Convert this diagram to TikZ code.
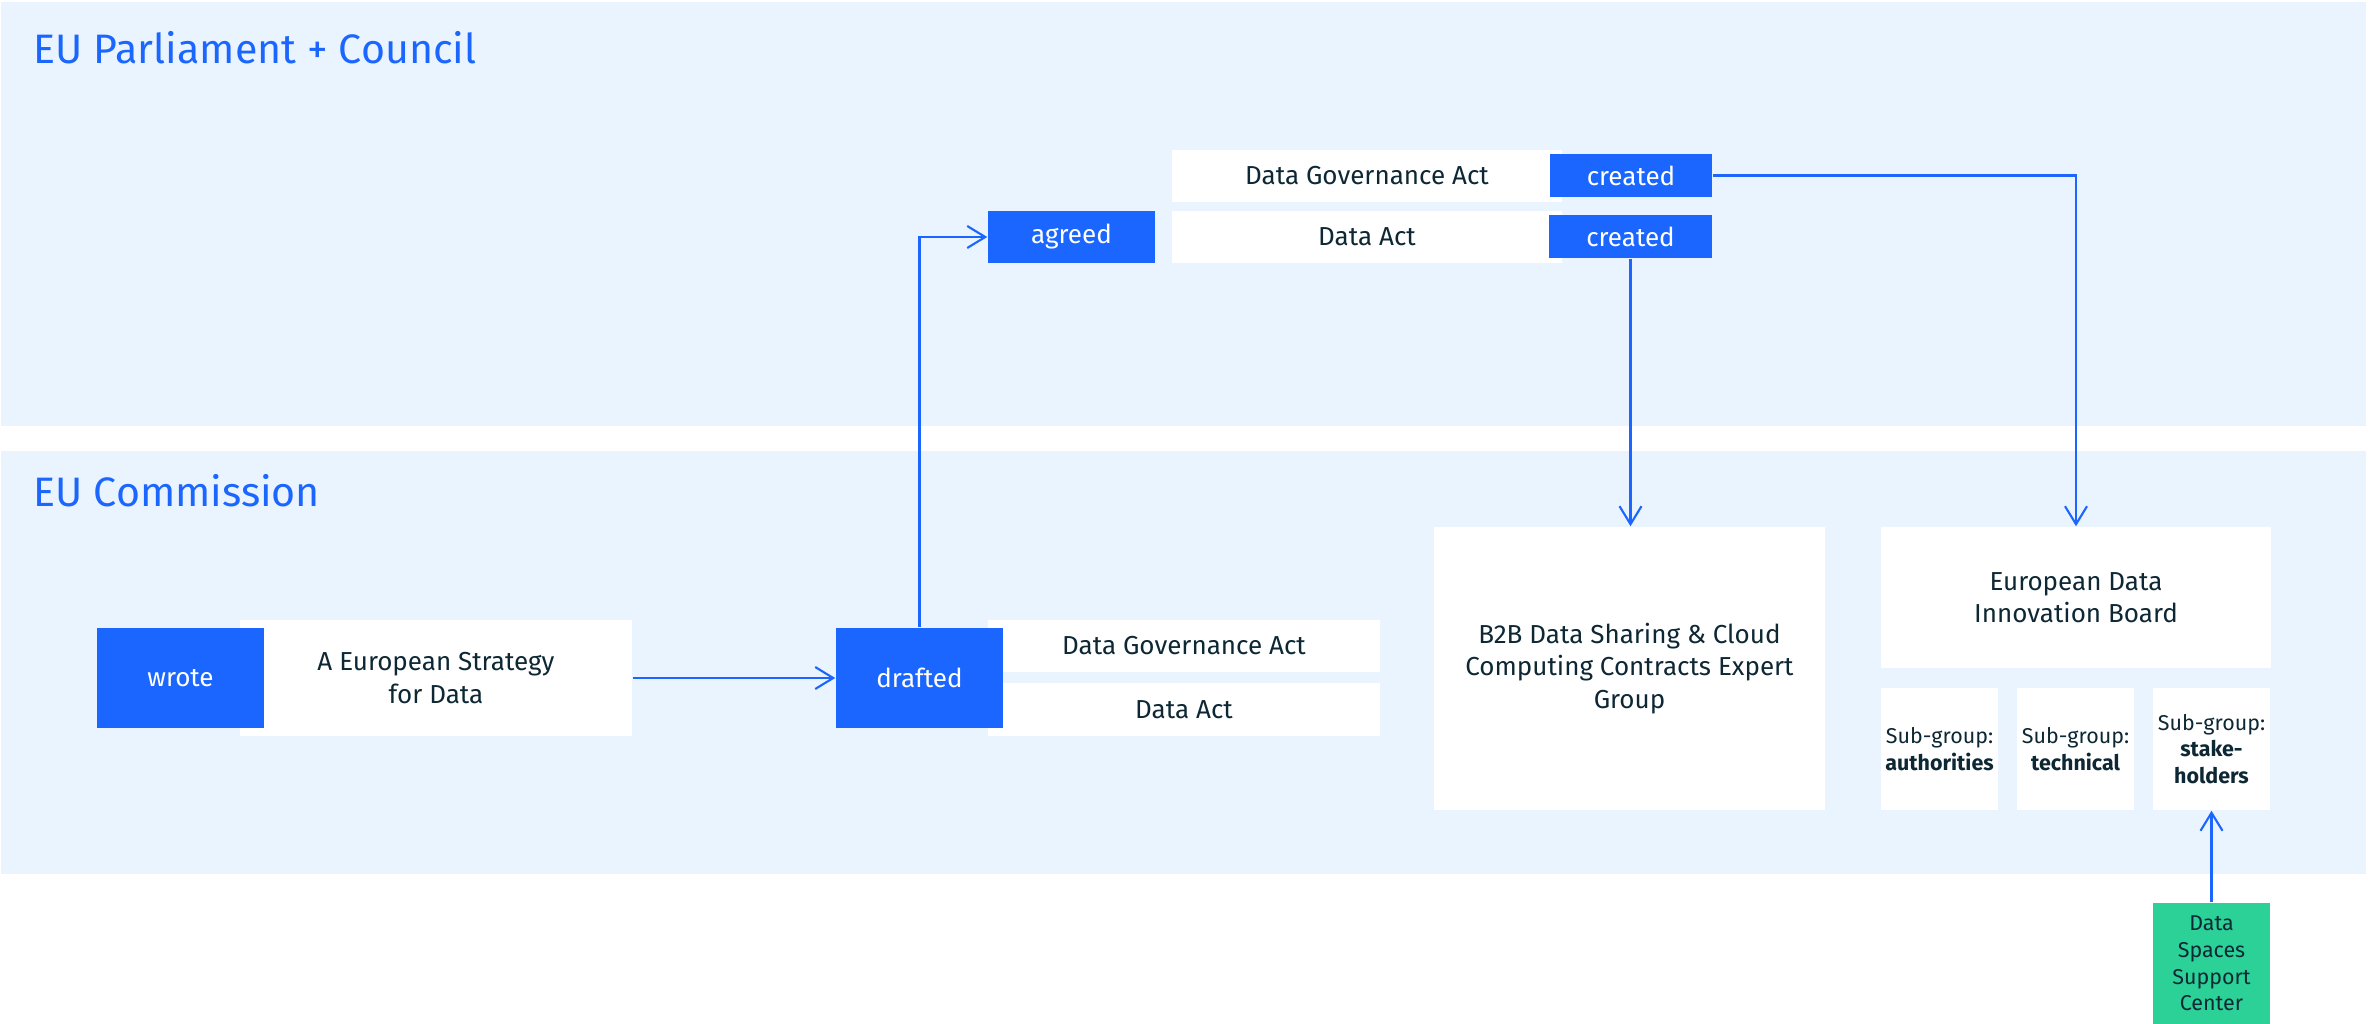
\documentclass[tikz,border=0pt]{standalone}
\usepackage{fontspec}
\setmainfont{Fira Sans}
\usetikzlibrary{arrows.meta}
\definecolor{panelblue}{RGB}{234,244,255}
\definecolor{boxblue}{RGB}{26,102,255}
\definecolor{boxgreen}{RGB}{43,209,151}
\definecolor{inktext}{RGB}{13,40,52}
\def\bodyfont{\fontsize{7.4}{9.2}\selectfont}
\def\smallfont{\fontsize{6.1}{7.6}\selectfont}
\tikzset{
  whitebox/.style={fill=white, inner sep=0pt, align=center, text=inktext, font=\bodyfont},
  bluebox/.style={fill=boxblue, inner sep=0pt, align=center, text=white, font=\bodyfont},
  subbox/.style={fill=white, inner sep=0pt, align=center, text=inktext, font=\smallfont,
    minimum width=1.17cm, minimum height=1.22cm},
  paneltitle/.style={anchor=base west, inner sep=0pt, text=boxblue, font=\fontsize{11.7}{14}\selectfont},
  link/.style={draw=boxblue, line width=0.6pt, -{Straight Barb[length=0.18cm,width=0.22cm]}}
}

\begin{document}
\begin{tikzpicture}[x=0.01cm, y=-0.01cm]
			%%%%% START %%%%%
			\useasboundingbox (0,0) rectangle (2369,1024);
			
			\fill[panelblue] (1,2) rectangle (2366,426);
			\fill[panelblue] (1,451) rectangle (2366,874);
			\node[paneltitle] (parltitle) at (33,64) {EU Parliament + Council};
			\node[paneltitle] (commtitle) at (33,506) {EU Commission};
			
			% parliament + council
			\node[bluebox, minimum width=1.67cm, minimum height=0.52cm] (agreed) at (1071.5,237) {agreed};
			\node[whitebox, minimum width=3.90cm, minimum height=0.52cm] (dgatop) at (1367,176) {Data Governance Act};
			\node[whitebox, minimum width=3.90cm, minimum height=0.52cm] (datop) at (1367,237) {Data Act};
			\node[bluebox, minimum width=1.62cm, minimum height=0.43cm] (createda) at (1631,175.5) {created};
			\node[bluebox, minimum width=1.63cm, minimum height=0.43cm] (createdb) at (1630.5,236.5) {created};
			
			% commission
			\node[whitebox, minimum width=3.92cm, minimum height=1.16cm] (strategy) at (436,678) {A European Strategy\\for Data};
			\node[bluebox, minimum width=1.67cm, minimum height=1.00cm] (wrote) at (180.5,678) {wrote};
			\node[whitebox, minimum width=3.92cm, minimum height=0.52cm] (dgabot) at (1184,646) {Data Governance Act};
			\node[whitebox, minimum width=3.92cm, minimum height=0.53cm] (dabot) at (1184,709.5) {Data Act};
			\node[bluebox, minimum width=1.67cm, minimum height=1.00cm] (drafted) at (919.5,678) {drafted};
			
			\node[whitebox, minimum width=3.91cm, minimum height=2.83cm] (btob) at (1629.5,668.5) {B2B Data Sharing \& Cloud\\Computing Contracts Expert\\Group};
			\node[whitebox, minimum width=3.90cm, minimum height=1.41cm] (edib) at (2076,597.5) {European Data\\Innovation Board};
			\node[subbox] (subauth) at (1939.5,749) {Sub-group:\\\textbf{authorities}};
			\node[subbox] (subtech) at (2075.5,749) {Sub-group:\\\textbf{technical}};
			\node[subbox] (substake) at (2211.5,749) {Sub-group:\\\textbf{stake-}\\\textbf{holders}};
			
			\node[fill=boxgreen, inner sep=0pt, align=center, text=inktext, font=\smallfont,
			  minimum width=1.17cm, minimum height=1.21cm] (dssc) at (2211.5,963.5) {Data\\Spaces\\Support\\Center};
			
			% connectors
			\draw[link] (strategy.east) -- (drafted.west);
			\draw[link] (drafted.north) |- (agreed.west);
			\draw[link] (createda.east) -| (edib.north);
			\draw[link] (createdb.south) -- (createdb.south |- btob.north);
			\draw[link] (dssc.north) -- (substake.south);
			
			%%%%% END %%%%%
\end{tikzpicture}
\end{document}
